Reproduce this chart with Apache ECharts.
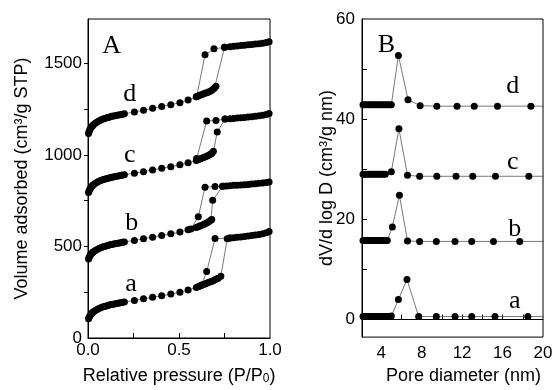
<!DOCTYPE html>
<html>
<head>
<meta charset="utf-8">
<script src="https://cdn.jsdelivr.net/npm/echarts@6/dist/echarts.min.js"></script>
<style>
  html, body { margin: 0; padding: 0; background: #fff; }
  #chart { width: 557px; height: 390px; }
</style>
</head>
<body>
<div id="chart"></div>
<script>
// ---- panel A: N2 isotherms, relative pressure vs volume adsorbed ----
const pLow = [0.003, 0.006, 0.01, 0.015, 0.02, 0.025, 0.03, 0.04, 0.05, 0.06, 0.07, 0.08, 0.09, 0.10,
  0.11, 0.12, 0.13, 0.14, 0.15, 0.16, 0.17, 0.18, 0.19, 0.20, 0.255, 0.305, 0.355, 0.405, 0.455,
  0.505, 0.55, 0.595, 0.605, 0.615, 0.625, 0.635, 0.645, 0.655, 0.665, 0.675]
const pPlateau = [0.78, 0.80, 0.82, 0.84, 0.86, 0.88, 0.90, 0.92, 0.94, 0.96, 0.98, 0.995]

const pStepA = [0.685, 0.695, 0.705, 0.715, 0.73, 0.765]
const pStepB = [0.68, 0.685, 0.74, 0.76]
const pStepC = [0.682, 0.689, 0.71, 0.753]
const pStepD = [0.685, 0.695, 0.703, 0.75]

const volA = [105, 112, 120, 128, 134, 139, 143, 150, 156, 161, 165, 169, 172, 175, 178, 181, 183, 185,
  187, 189, 191, 193, 195, 197, 205, 214, 222, 231, 240, 250, 262, 276, 280, 284, 288, 292, 296, 300,
  304, 308,
  312, 317, 322, 327, 338, 542,
  546, 548, 550, 552, 554, 557, 560, 563, 566, 570, 575, 582]
const volB = [432, 440, 448, 456, 462, 467, 471, 478, 484, 489, 493, 497, 500, 503, 506, 509, 511, 513,
  515, 517, 519, 521, 523, 525, 533, 542, 551, 560, 569, 579, 591, 604, 608, 612, 616, 620, 625, 630,
  636, 643,
  648, 752, 829, 831,
  832, 834, 835, 836, 838, 839, 841, 843, 845, 847, 849, 852]
const volC = [795, 805, 813, 821, 828, 833, 837, 845, 851, 856, 860, 864, 867, 870, 873, 876, 878, 880,
  882, 884, 886, 888, 890, 892, 900, 909, 918, 927, 936, 946, 957, 970, 974, 978, 982, 986, 990, 995,
  1000, 1006,
  1011, 1020, 1125, 1196,
  1198, 1200, 1202, 1203, 1205, 1207, 1209, 1211, 1214, 1217, 1221, 1226]
const volD = [1118, 1128, 1138, 1147, 1154, 1160, 1165, 1173, 1180, 1186, 1191, 1195, 1199, 1202, 1205,
  1208, 1211, 1213, 1215, 1217, 1219, 1221, 1223, 1225, 1235, 1245, 1255, 1265, 1275, 1286, 1300, 1318,
  1322, 1326, 1330, 1334, 1339, 1340, 1345, 1350,
  1358, 1366, 1375, 1588,
  1591, 1594, 1596, 1598, 1600, 1602, 1604, 1606, 1608, 1611, 1614, 1619]

// desorption branches [P/P0, volume]
const desA = [[0.78, 546], [0.698, 543], [0.652, 363], [0.625, 290]]
const desB = [[0.74, 829], [0.698, 828], [0.643, 824], [0.606, 662], [0.565, 596]]
const desC = [[0.753, 1196], [0.703, 1188], [0.652, 1185], [0.597, 981]]
const desD = [[0.75, 1588], [0.692, 1580], [0.643, 1547], [0.597, 1318]]

const tagsA = [[0.13, 1592, 'A'], [0.23, 1332, 'd'], [0.23, 997, 'c'], [0.24, 630, 'b'], [0.236, 296, 'a']]

// ---- panel B: pore size distribution ----
const diaA = [2.2, 2.4, 2.6, 2.8, 3.0, 3.2, 3.4, 3.6, 3.8, 4.0, 4.2, 4.4, 4.6, 4.8, 5.0, 5.7, 6.55, 7.7, 9.45, 11.3, 12.95, 15.25, 18.5, 21]
const psdA = [0.6, 0.6, 0.6, 0.6, 0.6, 0.6, 0.6, 0.6, 0.6, 0.6, 0.6, 0.6, 0.6, 0.6, 0.7, 4.0, 8.0, 0.6, 0.6, 0.6, 0.6, 0.6, 0.6, 0.6]
const diaB = [2.2, 2.4, 2.6, 2.8, 3.0, 3.2, 3.4, 3.6, 3.8, 4.0, 4.2, 4.4, 4.6, 5.1, 5.8, 6.6, 7.8, 9.45, 11.3, 12.95, 15.1, 17.7, 21]
const psdB = [15.8, 15.8, 15.8, 15.8, 15.8, 15.8, 15.8, 15.8, 15.8, 15.8, 15.8, 15.8, 15.8, 18.5, 24.8, 15.7, 15.6, 15.6, 15.6, 15.6, 15.6, 15.6, 15.6]
const diaC = [2.2, 2.4, 2.6, 2.8, 3.0, 3.2, 3.4, 3.6, 3.8, 4.0, 4.2, 4.4, 5.0, 5.75, 6.6, 7.8, 9.5, 11.4, 13.05, 15.3, 18.6, 21]
const psdC = [29.0, 29.0, 29.0, 29.0, 29.0, 29.0, 29.0, 29.0, 29.0, 29.0, 29.0, 29.0, 29.5, 38.1, 28.8, 28.6, 28.6, 28.6, 28.6, 28.6, 28.6, 28.6]
const diaD = [2.2, 2.4, 2.6, 2.8, 3.0, 3.2, 3.4, 3.6, 3.8, 4.0, 4.2, 4.4, 4.6, 4.8, 5.0, 5.7, 6.65, 7.85, 9.5, 11.5, 13.2, 15.5, 18.8, 21]
const psdD = [42.9, 42.9, 42.9, 42.9, 42.9, 42.9, 42.9, 42.9, 42.9, 42.9, 42.9, 42.9, 42.9, 42.9, 42.9, 52.7, 43.9, 42.7, 42.6, 42.6, 42.6, 42.6, 42.6, 42.6]

const tagsB = [[4.52, 54.8, 'B'], [17.0, 46.6, 'd'], [17.0, 31.4, 'c'], [17.2, 18.1, 'b'], [17.2, 3.6, 'a']]

const sans = 'Liberation Sans, Arial, Helvetica, sans-serif'
const serif = 'Liberation Serif, Times New Roman, serif'

const zip = (xs, ys) => xs.map((x, i) => [x, ys[i]])

function curve(data, xi, size) {
  return {
    type: 'line',
    xAxisIndex: xi,
    yAxisIndex: xi,
    data: data,
    symbol: 'circle',
    symbolSize: size,
    showAllSymbol: true,
    clip: true,
    itemStyle: { color: '#000' },
    lineStyle: { color: '#555', width: 0.8 },
    z: 3
  }
}

function tags(data, xi) {
  return {
    type: 'scatter',
    xAxisIndex: xi,
    yAxisIndex: xi,
    data: data,
    symbolSize: 1,
    itemStyle: { color: 'rgba(0,0,0,0)', opacity: 1 },
    label: {
      show: true,
      position: 'inside',
      formatter: p => p.data[2],
      fontFamily: serif,
      fontSize: 26,
      color: '#000',
      opacity: 1,
      textBorderWidth: 0
    },
    z: 5
  }
}

const axisLine = { lineStyle: { color: '#000', width: 1 } }
const labelStyle = { color: '#000', fontFamily: sans, fontSize: 17 }
const nameStyle = { color: '#000', fontFamily: sans, fontSize: 18 }

const option = {
  animation: false,
  backgroundColor: '#fff',
  grid: [
    { left: 88, top: 19, width: 182, height: 322, show: true, borderColor: '#000', borderWidth: 1 },
    { left: 362, top: 19, width: 181, height: 322, show: true, borderColor: '#000', borderWidth: 1 }
  ],
  xAxis: [
    {
      type: 'value', gridIndex: 0, min: 0, max: 1,
      axisLine: axisLine, splitLine: { show: false },
      axisTick: { inside: true, length: 5, lineStyle: { color: '#000' }, customValues: [0.25, 0.5, 0.75] },
      axisLabel: Object.assign({ margin: 4, customValues: [0, 0.5, 1], formatter: v => v.toFixed(1) }, labelStyle),
      name: 'Relative pressure (P/P{sub|0})', nameLocation: 'middle', nameGap: 29,
      nameTextStyle: Object.assign({ rich: { sub: { fontFamily: sans, fontSize: 12, color: '#000', verticalAlign: 'bottom', padding: [6, 0, 0, 0] } } }, nameStyle)
    },
    {
      type: 'value', gridIndex: 1, min: 2.1, max: 20,
      axisLine: axisLine, splitLine: { show: false },
      axisTick: { inside: true, length: 5, lineStyle: { color: '#000' }, customValues: [4, 6, 8, 10, 12, 14, 16, 18] },
      axisLabel: Object.assign({ margin: 8, customValues: [4, 8, 12, 16, 20] }, labelStyle),
      name: 'Pore diameter (nm)', nameLocation: 'middle', nameGap: 29,
      nameTextStyle: Object.assign({ padding: [0, 0, 0, 22] }, nameStyle)
    }
  ],
  yAxis: [
    {
      type: 'value', gridIndex: 0, min: 0, max: 1743,
      axisLine: axisLine, splitLine: { show: false },
      axisTick: { inside: false, length: 4, lineStyle: { color: '#000' }, customValues: [250, 500, 750, 1000, 1250, 1500] },
      axisLabel: Object.assign({ margin: 6, customValues: [0, 500, 1000, 1500], formatter: v => String(v) }, labelStyle),
      name: 'Volume adsorbed (cm³/g STP)', nameLocation: 'middle', nameGap: 57, nameMoveOverlap: false,
      nameTextStyle: nameStyle
    },
    {
      type: 'value', gridIndex: 1, min: -3.5, max: 60,
      axisLine: axisLine, splitLine: { show: false },
      axisTick: { inside: true, length: 5, lineStyle: { color: '#000' }, customValues: [10, 20, 30, 40, 50] },
      axisLabel: Object.assign({ margin: 7, customValues: [0, 20, 40, 60], formatter: v => String(v) }, labelStyle),
      name: 'dV/d log D (cm³/g nm)', nameLocation: 'middle', nameGap: 26, nameMoveOverlap: false,
      nameTextStyle: nameStyle
    }
  ],
  series: [
    curve(zip(pLow.concat(pStepA, pPlateau), volA), 0, 7),
    curve(zip(pLow.concat(pStepB, pPlateau), volB), 0, 7),
    curve(zip(pLow.concat(pStepC, pPlateau), volC), 0, 7),
    curve(zip(pLow.concat(pStepD, pPlateau), volD), 0, 7),
    curve(desA, 0, 7),
    curve(desB, 0, 7),
    curve(desC, 0, 7),
    curve(desD, 0, 7),
    curve(zip(diaA, psdA), 1, 7),
    curve(zip(diaB, psdB), 1, 7),
    curve(zip(diaC, psdC), 1, 7),
    curve(zip(diaD, psdD), 1, 7),
    tags(tagsA, 0),
    tags(tagsB, 1)
  ]
}

const chart = echarts.init(document.getElementById('chart'))
chart.setOption(option)
</script>
</body>
</html>
